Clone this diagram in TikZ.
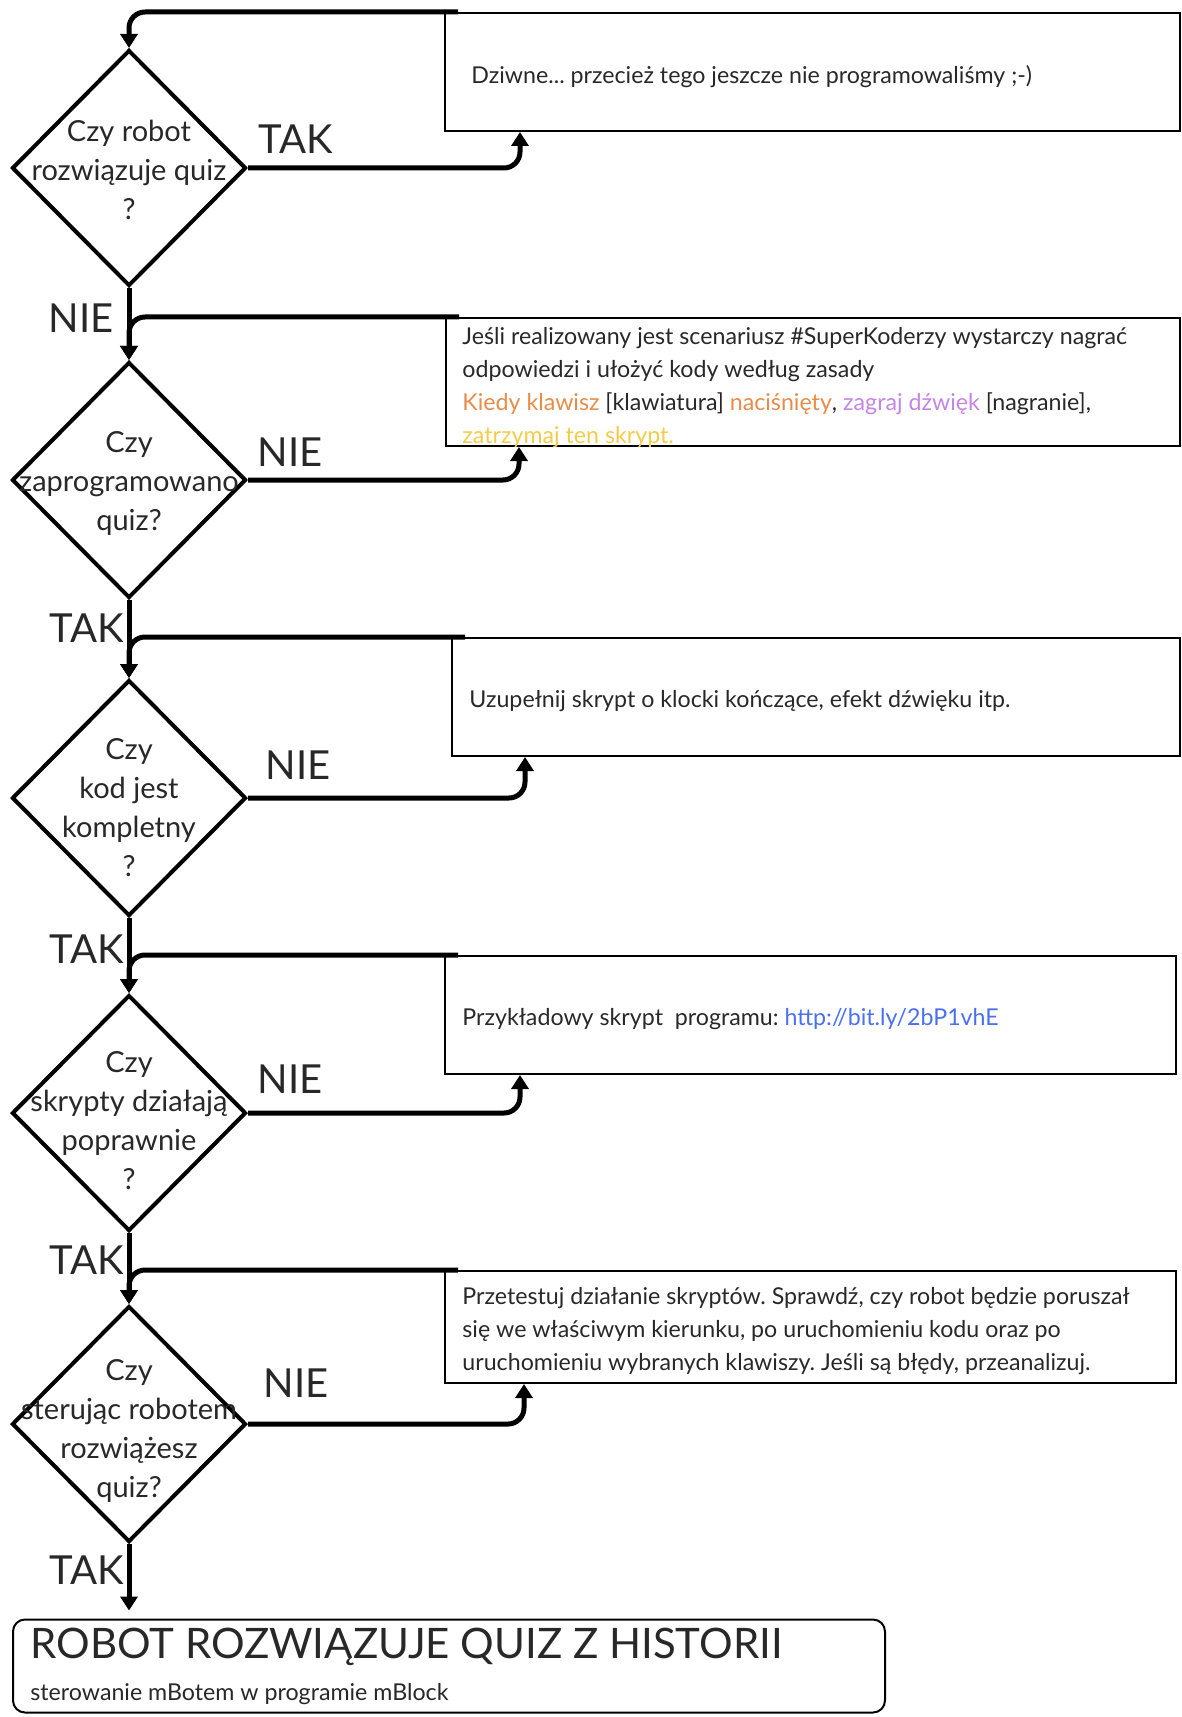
\documentclass[tikz,border=0pt]{standalone}
\usepackage{fontspec}
\setmainfont{Lato}
\usetikzlibrary{shapes.geometric,arrows.meta}

\definecolor{textgray}{RGB}{40,40,40}
\definecolor{kodorange}{RGB}{232,140,72}
\definecolor{kodpurple}{RGB}{198,132,232}
\definecolor{kodyellow}{RGB}{245,204,74}
\definecolor{linkblue}{RGB}{74,112,240}
\frenchspacing

\begin{document}
\begin{tikzpicture}[x=0.5pt,y=0.5pt,yscale=-1,
  decision/.style={draw=black,line width=2pt,diamond,minimum width=117pt,minimum height=118pt,inner sep=0pt},
  question/.style={align=center,text=textgray,inner sep=0pt,font=\fontsize{14.5}{19.5}\selectfont},
  note/.style={draw=black,line width=1pt,rectangle,inner sep=0pt},
  notetext/.style={anchor=west,align=left,text=textgray,inner sep=0pt,font=\fontsize{11.6}{16.5}\selectfont},
  answer/.style={text=textgray,inner sep=0pt,font=\fontsize{20}{24}\selectfont},
  flow/.style={line width=2.5pt,-{Triangle[width=8.5pt,length=7pt]}}]
\useasboundingbox (0,0) rectangle (1182,1717);

%Shape: Diamond
\node[decision] (d1) at (129,168) {};
\node[decision] (d2) at (129,480) {};
\node[decision] (d3) at (129,798) {};
\node[decision] (d4) at (129,1113) {};
\node[decision] (d5) at (129,1424) {};

% Text Node
\node[question] (q1) at (129,170) {Czy robot\\rozwiązuje quiz\\?};
\node[question] (q2) at (129,483) {Czy\\zaprogramowano\\quiz?};
\node[question] (q3) at (129,808) {Czy\\kod jest\\kompletny\\?};
\node[question] (q4) at (129,1121) {Czy\\skrypty działają\\poprawnie\\?};
\node[question] (q5) at (129,1431) {Czy\\sterując robotem\\rozwiążesz\\quiz?};

%Shape: Rectangle
\node[note,minimum width=367.5pt,minimum height=59pt] (b1) at (812.5,72) {};
\node[note,minimum width=367pt,minimum height=64pt] (b2) at (813,382) {};
\node[note,minimum width=364pt,minimum height=59pt] (b3) at (816,697) {};
\node[note,minimum width=365.5pt,minimum height=59pt] (b4) at (810.5,1015) {};
\node[note,minimum width=365.5pt,minimum height=56pt] (b5) at (810.5,1327) {};
\node[note,rounded corners=6pt,minimum width=436pt,minimum height=46.5pt] (fin) at (449,1666) {};

% Text Node
\node[notetext] (t1) at (471,77) {Dziwne... przecież tego jeszcze nie programowaliśmy ;-)};
\node[notetext] (t2) at (462,388) {Jeśli realizowany jest scenariusz \#SuperKoderzy wystarczy nagrać\\odpowiedzi i ułożyć kody według zasady\\{\color{kodorange}Kiedy klawisz} [klawiatura] {\color{kodorange}naciśnięty}, {\color{kodpurple}zagraj dźwięk} [nagranie],\\{\color{kodyellow}zatrzymaj ten skrypt.}};
\node[notetext] (t3) at (469,701) {Uzupełnij skrypt o klocki kończące, efekt dźwięku itp.};
\node[notetext] (t4) at (462,1019) {Przykładowy skrypt~ programu: {\color{linkblue}http://bit.ly/2bP1vhE}};
\node[notetext] (t5) at (462,1331) {Przetestuj działanie skryptów. Sprawdź, czy robot będzie poruszał\\się we właściwym kierunku, po uruchomieniu kodu oraz po\\uruchomieniu wybranych klawiszy. Jeśli są błędy, przeanalizuj.};
\node[anchor=west,text=textgray,inner sep=0pt,font=\fontsize{21}{26}\selectfont] (ft) at (30,1647) {ROBOT ROZWIĄZUJE QUIZ Z HISTORII};
\node[anchor=west,text=textgray,inner sep=0pt,font=\fontsize{11.6}{15}\selectfont] (fs) at (30,1694) {sterowanie mBotem w programie mBlock};

% Text Node
\node[answer] (a1) at (296,139) {TAK};
\node[answer] (a2) at (290,452) {NIE};
\node[answer] (a3) at (298,765) {NIE};
\node[answer] (a4) at (290,1079) {NIE};
\node[answer] (a5) at (296,1383) {NIE};
\node[answer,anchor=east] (n1) at (114,318) {NIE};
\node[answer,anchor=east] (n2) at (124,628) {TAK};
\node[answer,anchor=east] (n3) at (124,949) {TAK};
\node[answer,anchor=east] (n4) at (124,1260) {TAK};
\node[answer,anchor=east] (n5) at (124,1570) {TAK};

%Straight Lines
\draw[flow] (d1.south) -- (d2.north);
\draw[flow] (d2.south) -- (d3.north);
\draw[flow] (d3.south) -- (d4.north);
\draw[flow] (d4.south) -- (d5.north);
\draw[flow,shorten >=4pt] (d5.south) -- (d5.south |- fin.north);

%Curve Lines
\draw[flow,rounded corners=8pt] ([xshift=7pt]b1.north west) -| (d1.north);
\draw[flow,rounded corners=8pt] ([xshift=7pt]b2.north west) -| (d2.north);
\draw[flow,rounded corners=8pt] ([xshift=7pt]b3.north west) -| (d3.north);
\draw[flow,rounded corners=8pt] ([xshift=7pt]b4.north west) -| (d4.north);
\draw[flow,rounded corners=8pt] ([xshift=7pt]b5.north west) -| (d5.north);
\draw[flow,rounded corners=8pt] (d1.east) -| ([xshift=38pt]b1.south west);
\draw[flow,rounded corners=8pt] (d2.east) -| ([xshift=37pt]b2.south west);
\draw[flow,rounded corners=8pt] (d3.east) -| ([xshift=37pt]b3.south west);
\draw[flow,rounded corners=8pt] (d4.east) -| ([xshift=38pt]b4.south west);
\draw[flow,rounded corners=8pt] (d5.east) -| ([xshift=40pt]b5.south west);

\end{tikzpicture}
\end{document}
